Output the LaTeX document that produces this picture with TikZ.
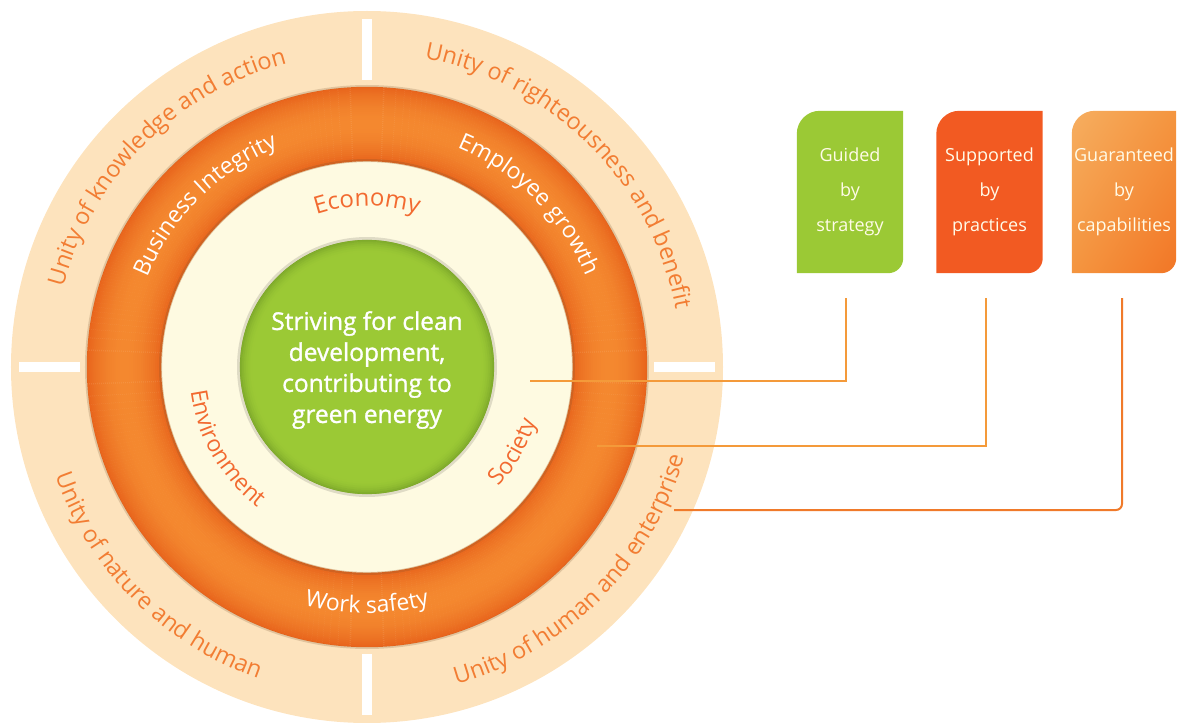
\documentclass[tikz,border=0pt]{standalone}
\usepackage{fontspec}
\setmainfont{Open Sans}
\usetikzlibrary{decorations.text,backgrounds,shadings}

\definecolor{peach}{HTML}{FDE3BD}
\definecolor{ringdark}{HTML}{E8641C}
\definecolor{ringlight}{HTML}{F4882F}
\definecolor{cream}{HTML}{FEFAE1}
\definecolor{leafgreen}{HTML}{9BC935}
\definecolor{greendark}{HTML}{82AE2C}
\definecolor{leafred}{HTML}{F25A22}
\definecolor{leafpale}{HTML}{F6AE60}
\definecolor{leafmid}{HTML}{F4953F}
\definecolor{leafdeep}{HTML}{F27626}
\definecolor{outertext}{HTML}{F27D33}
\definecolor{innertext}{HTML}{F26A30}
\definecolor{linklight}{HTML}{F49A3A}
\definecolor{linkdark}{HTML}{F07A2A}
\definecolor{leaftext}{HTML}{FFFBE8}

\newcommand\outerfont{\fontsize{23.5}{23.5}\selectfont\color{outertext}}
\newcommand\midfont{\fontsize{23}{23}\selectfont\color{white}}
\newcommand\innerfont{\fontsize{23}{23}\selectfont\color{innertext}}

\begin{document}
\begin{tikzpicture}
  [x=1pt, y=1pt,
   arctext/.style={decorate, decoration={text along path, text align=center, text={#1}}},
   pillar/.style={minimum width=106pt, minimum height=162pt, inner sep=0pt, align=center,
                  text=leaftext, font=\fontsize{18}{35}\selectfont},
   link/.style={line width=2pt}]

  \useasboundingbox (-367,-356) rectangle (814,367);

  % rings
  \fill[peach] (0,0) circle (356);
  \foreach \r in {207,209,...,279} {
    \pgfmathtruncatemacro\t{100*((\r-243)/37)^2}
    \draw[ringdark!\t!ringlight, line width=2.4] (0,0) circle (\r);
  }
  \draw[brown!60!black, opacity=0.2, line width=2] (0,0) circle (281);
  \fill[cream] (0,0) circle (205);
  \draw[brown!70!black, opacity=0.25, line width=3] (0,0) circle (206.5);
  \fill[leafgreen] (0,0) circle (127);
  \foreach \r in {116,118,...,126} {
    \pgfmathtruncatemacro\t{100*((\r-114)/12)^2}
    \draw[greendark!\t!leafgreen, line width=2.2] (0,0) circle (\r);
  }
  \draw[black, opacity=0.12, line width=3] (0,0) circle (128.5);

  \foreach \a in {0,90,180,270}
    \draw[white, line width=10] (\a:287) -- (\a:348);

  % ring labels
  \path[arctext={|\outerfont|Unity of knowledge and action}] (185:314) arc[start angle=185, end angle=85, radius=314];
  \path[arctext={|\outerfont|Unity of righteousness and benefit}] (95:314) arc[start angle=95, end angle=-5, radius=314];
  \path[arctext={|\outerfont|Unity of nature and human}] (175:330) arc[start angle=175, end angle=275, radius=330];
  \path[arctext={|\outerfont|Unity of human and enterprise}] (265:330) arc[start angle=265, end angle=365, radius=330];

  \path[arctext={|\midfont|Business Integrity}] (185:237) arc[start angle=185, end angle=85, radius=237];
  \path[arctext={|\midfont|Employee growth}] (95:237) arc[start angle=95, end angle=-5, radius=237];
  \path[arctext={|\midfont|Work safety}] (220:246) arc[start angle=220, end angle=320, radius=246];

  \path[arctext={|\innerfont\fontsize{24}{24}\selectfont|Economy}] (130:161) arc[start angle=130, end angle=50, radius=161];
  \path[arctext={|\innerfont|Environment}] (160:178) arc[start angle=160, end angle=260, radius=178];
  \path[arctext={|\innerfont|Society}] (280:178) arc[start angle=280, end angle=380, radius=178];

  \node[align=center, text=white, font=\fontsize{24.5}{31}\selectfont\addfontfeature{FakeBold=1.2}] (core) at (0,-3)
    {Striving for clean\\development,\\contributing to\\green energy};

  % boxes
  \node[pillar] (guide) at (483,175) {Guided\\by\\strategy};
  \node[pillar] (support) at (622.5,175) {Supported\\by\\practices};
  \node[pillar, minimum width=104pt] (guarantee) at (757,175) {Guaranteed\\by\\capabilities};

  \begin{scope}[on background layer]
    \foreach \b/\c in {guide/leafgreen, support/leafred}
      \fill[\c] (\b.north east) -- ([yshift=15pt]\b.south east) arc[start angle=0, end angle=-90, radius=15pt]
        -- (\b.south west) -- ([yshift=-23pt]\b.north west) arc[start angle=180, end angle=90, radius=23pt] -- cycle;
    \shade[upper left=leafpale, upper right=leafmid, lower left=leafmid, lower right=leafdeep]
      (guarantee.north east) -- ([yshift=15pt]guarantee.south east) arc[start angle=0, end angle=-90, radius=15pt]
        -- (guarantee.south west) -- ([yshift=-23pt]guarantee.north west) arc[start angle=180, end angle=90, radius=23pt] -- cycle;
  \end{scope}

  % connectors
  \coordinate (p1) at (163,-14);
  \coordinate (p2) at (230,-79);
  \coordinate (p3) at (307,-143);
  \draw[link, linklight] (p1) -| ([xshift=-4pt, yshift=-25pt]guide.south);
  \draw[link, linklight] (p2) -| ([xshift=-3.5pt, yshift=-25pt]support.south);
  \draw[link, linkdark, rounded corners=6pt] (p3) -| ([xshift=-2pt, yshift=-25pt]guarantee.south);
\end{tikzpicture}
\end{document}
